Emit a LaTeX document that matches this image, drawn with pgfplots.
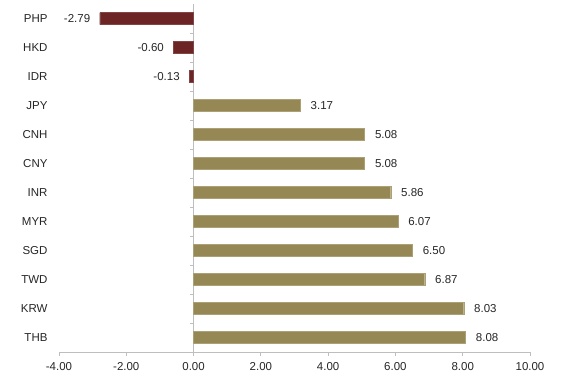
\documentclass[border=0pt]{standalone}
\usepackage{pgfplots}
\pgfplotsset{compat=1.18}
\usepackage{fontspec}
\setmainfont{Liberation Sans}
\definecolor{neg}{RGB}{108,36,36}
\definecolor{pos}{RGB}{150,136,84}
\definecolor{axgray}{RGB}{190,190,190}
\begin{document}
\begin{tikzpicture}
\path[use as bounding box] (0,0) rectangle (565bp,382bp);
\begin{axis}[
  at={(59bp,30bp)}, anchor=south west,
  scale only axis, width=471bp, height=348bp,
  xmin=-4, xmax=10, ymin=-0.5, ymax=11.5, y dir=reverse,
  axis x line=bottom, x axis line style={-, draw=axgray, line width=0.8pt},
  y axis line style={draw=none},
  xtick={-4,-2,...,10},
  x tick style={draw=axgray, line width=0.8pt},
  tick align=outside, major tick length=4bp,
  xticklabel={\pgfmathprintnumber[fixed,zerofill,precision=2,assume math mode=true]{\tick}},
  xticklabel style={yshift=-3bp},
  ytick={0,...,11},
  yticklabels={PHP,HKD,IDR,JPY,CNH,CNY,INR,MYR,SGD,TWD,KRW,THB},
  y tick style={draw=none},
  yticklabel style={xshift=-4bp},
  tick label style={font=\fontsize{11.5bp}{13bp}\selectfont, text=black!85},
  xbar, bar width=12bp, bar shift=0pt,
  point meta=x,
  nodes near coords={\pgfmathprintnumber[fixed,zerofill,precision=2,assume math mode=true]{\pgfplotspointmeta}},
  every node near coord/.append style={font=\fontsize{11.5bp}{13bp}\selectfont, text=black!85},
  clip=false,
]
\draw[axgray, line width=0.8pt] (axis cs:0,-0.5) -- (axis cs:0,11.5);
\pgfplotsinvokeforeach{0.5,1.5,...,10.5}{\draw[axgray, line width=0.8pt] (axis cs:0,#1) -- ([xshift=-4bp]axis cs:0,#1);}
\addplot[fill=neg, draw=neg!85!white, line width=0.4pt,
  every node near coord/.append style={anchor=east, xshift=-6bp}]
  coordinates {(-2.79,0) (-0.60,1) (-0.13,2)};
\addplot[fill=pos, draw=pos!80!white, line width=0.4pt,
  every node near coord/.append style={anchor=west, xshift=7bp}]
  coordinates {(3.17,3) (5.08,4) (5.08,5) (5.86,6) (6.07,7) (6.50,8) (6.87,9) (8.03,10) (8.08,11)};
\end{axis}
\end{tikzpicture}
\end{document}
